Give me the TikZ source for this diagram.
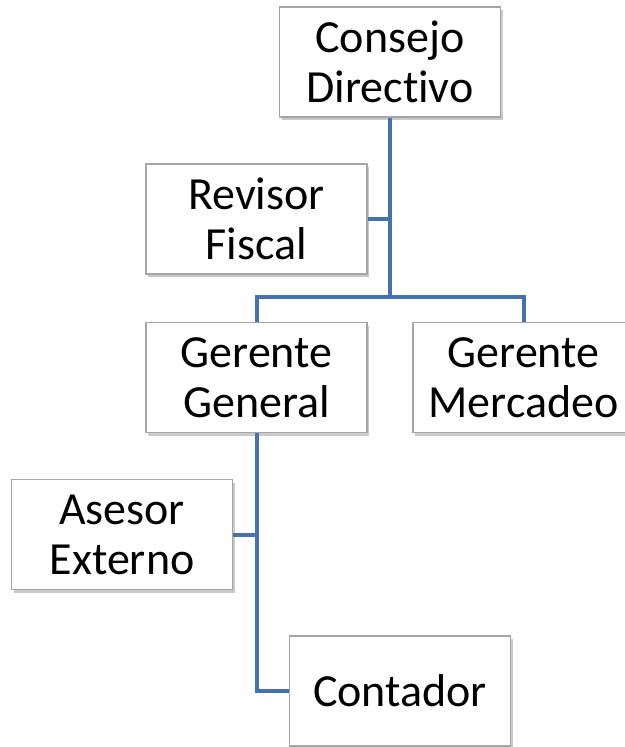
\documentclass[tikz,border=0pt]{standalone}
\usepackage{fontspec}
\setmainfont{Carlito}[Ligatures=NoCommon]
\usetikzlibrary{shadows}
\definecolor{linkblue}{HTML}{4572AB}
\definecolor{boxgray}{HTML}{A6A6A6}
\tikzset{
  orgbox/.style={rectangle, draw=boxgray, line width=1.2pt, fill=white,
    minimum width=221pt, minimum height=110pt, inner sep=0pt, align=center,
    font=\fontsize{46}{50}\selectfont,
    drop shadow={shadow xshift=2pt, shadow yshift=-3pt, opacity=0.35, fill=black!60}},
  link/.style={draw=linkblue, line width=4pt}
}
\begin{document}
\begin{tikzpicture}[x=1pt,y=-1pt]
\useasboundingbox (0,0) rectangle (624,747);
\node[orgbox] (CD) at (390,62) {Consejo\\Directivo};
\node[orgbox] (RF) at (256.5,219) {Revisor\\Fiscal};
\node[orgbox] (GG) at (256.5,377.5) {Gerente\\General};
\node[orgbox] (GM) at (523.5,377.5) {Gerente\\Mercadeo};
\node[orgbox] (AE) at (122,534.5) {Asesor\\Externo};
\node[orgbox] (CO) at (400,691) {Contador};
\coordinate (J) at (390,297);
\draw[link] (CD.south) -- (J);
\draw[link] (GG.north) |- (J) -| (GM.north);
\draw[link] (RF.east) -- (RF.east -| J);
\draw[link] (GG.south) |- (CO.west);
\draw[link] (AE.east) -- (AE.east -| GG.south);
\end{tikzpicture}
\end{document}
